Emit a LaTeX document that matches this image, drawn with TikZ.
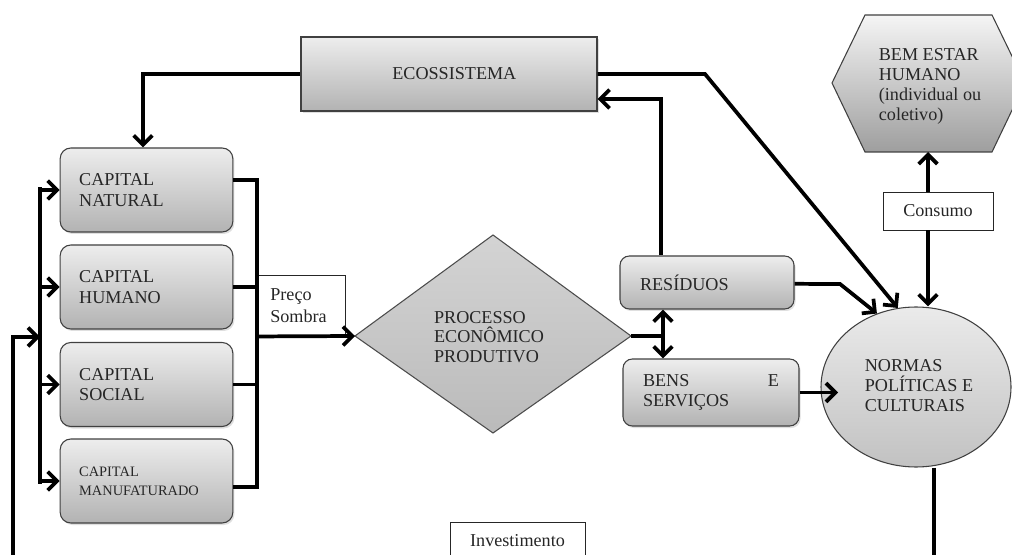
\documentclass[tikz,border=0pt]{standalone}
\usepackage{fontspec}
\setmainfont{Liberation Serif}
\usetikzlibrary{arrows.meta,shadows,shapes.geometric}
\begin{document}
\begin{tikzpicture}[x=0.75pt,y=-0.75pt,
  font=\fontsize{13.6}{15.6}\selectfont,
  every node/.style={text=black!85},
  conn/.style={line width=2.8pt},
  tip/.tip={Straight Barb[length=7pt,width=14pt]},
  arr/.style={conn,-tip},
  dblarr/.style={conn,tip-tip},
  shade/.style={top color=black!7,bottom color=black!30},
  shad/.style={drop shadow={opacity=.25,shadow xshift=1.2pt,shadow yshift=-1.5pt}},
  capbox/.style={shade,shad,draw=black!75,line width=0.8pt,rounded corners=8pt,
     minimum height=63pt,text width=101pt,inner xsep=14.25pt,inner ysep=0pt,align=left},
  whitebox/.style={draw=black!85,line width=0.7pt,fill=white,inner ysep=0pt},
]
\useasboundingbox (0,0) rectangle (1012,555);
\clip (0,0) rectangle (1012,555);

% capital boxes
\node[capbox] (nat) at (146.5,190) {CAPITAL\\NATURAL};
\node[capbox] (hum) at (146.5,287) {CAPITAL\\HUMANO};
\node[capbox] (soc) at (146.5,384.5) {CAPITAL\\SOCIAL};
\node[capbox,font=\fontsize{10.8}{14.2}\selectfont] (man) at (146.5,481) {CAPITAL\\MANUFATURADO};

% ecossistema
\node[shade,shad,draw=black!75,line width=0.8pt,minimum width=222pt,minimum height=55.5pt,inner sep=0pt] (eco) at (449,74) {\hspace*{8pt}ECOSSISTEMA};

% preco sombra
\node[whitebox,minimum height=45.75pt,text width=46pt,inner xsep=10pt,align=left] (preco) at (301,305.5) {Preço\\[1pt]Sombra};

% diamond
\coordinate (dl) at (355,336);
\coordinate (dt) at (493,235);
\coordinate (dr) at (631,336);
\coordinate (db) at (493,433);
\draw[top color=black!17,bottom color=black!27,draw=black!70,line width=0.8pt] (dl) -- (dt) -- (dr) -- (db) -- cycle;
\node[align=left,inner sep=0pt,font=\fontsize{13.6}{14.5}\selectfont] (proc) at (489,337) {PROCESSO\\ECONÔMICO\\PRODUTIVO};

% residuos, bens
\node[capbox,rounded corners=7pt,minimum height=39.75pt,text width=100.5pt,inner xsep=15pt] (res) at (707,282.5) {RESÍDUOS};
\node[capbox,rounded corners=7pt,minimum height=50.25pt,text width=102pt,inner xsep=15pt] (bens) at (711,392.5) {BENS\hfill E\\SERVIÇOS};

% ellipse
\node[ellipse,top color=black!8,bottom color=black!24,draw=black!75,line width=0.8pt,minimum width=142.5pt,minimum height=120pt,inner sep=0pt] (ell) at (916,387) {};
\node[align=left,inner sep=0pt,font=\fontsize{13.6}{15}\selectfont] (ellt) at (919,386) {NORMAS\\POLÍTICAS E\\CULTURAIS};

% hexagon
\coordinate (h1) at (832,83);
\coordinate (h2) at (865,15);
\coordinate (h3) at (992,15);
\coordinate (h4) at (1025,83);
\coordinate (h5) at (992,152);
\coordinate (h6) at (865,152);
\draw[top color=black!4,bottom color=black!38,draw=black!75,line width=0.8pt] (h1) -- (h2) -- (h3) -- (h4) -- (h5) -- (h6) -- cycle;
\node[align=left,inner sep=0pt,font=\fontsize{13.6}{15}\selectfont] (hext) at (930,86) {BEM ESTAR\\HUMANO\\(individual ou\\coletivo)};
\coordinate (hb) at (928,152);

% consumo, investimento
\node[whitebox,minimum width=82.5pt,minimum height=28.5pt,inner xsep=0pt] (cons) at (938,211) {Consumo};
\node[whitebox,minimum width=101.25pt,minimum height=28.5pt,inner xsep=0pt] (inv) at (517.5,541) {Investimento};

% helper coordinates
\coordinate (bus) at (40,0);
\coordinate (brk) at (257,0);
\coordinate (xr) at (661,0);
\coordinate (xd) at (663,0);
\coordinate (ecobend) at (705,74);
\coordinate (resbend) at (840,284);
\coordinate (ein) at (838,0);
\coordinate (ebot) at (934,560);
\coordinate (fb0) at (13,560);
\coordinate (fb1) at (13,337);

% connectors
\draw[arr] (eco.west) -| ([xshift=-2.6pt]nat.north);
\draw[arr] (eco.east) -- (ecobend) -- (ell.103);
\draw[arr] (res.north -| xr) |- ([yshift=-18.75pt]eco.east);
\draw[arr] ([yshift=-1pt]res.east) -- (resbend) -- (ell.118);
\draw[conn] (dr) -- (dr -| xd);
\draw[dblarr] (res.south -| xd) -- (bens.north -| xd);
\draw[arr] (bens.east) -- (bens.east -| ein);
\draw[arr] (cons.north -| hb) -- (hb);
\draw[arr] (cons.south -| hb) -- (ell.north -| hb);
\draw[conn] (ell.south -| ebot) -- (ebot);

% left bus
\draw[conn] ([yshift=2pt]nat.west -| bus) -- ([yshift=-2pt]man.west -| bus);
\foreach \n in {nat,hum,soc,man} \draw[arr] (\n.west -| bus) -- (\n.west);
\draw[arr] (fb0) -- (fb1) -- (fb1 -| bus);

% right bracket
\draw[conn] ([yshift=7.5pt]nat.east) -- ([yshift=7.5pt]nat.east -| brk) -- ([yshift=-4.5pt]man.east -| brk) -- ([yshift=-4.5pt]man.east);
\draw[conn] (hum.east) -- (hum.east -| brk);
\draw[conn] (soc.east) -- (soc.east -| brk);
\draw[arr] (preco.south west) -- (dl);
\end{tikzpicture}
\end{document}
